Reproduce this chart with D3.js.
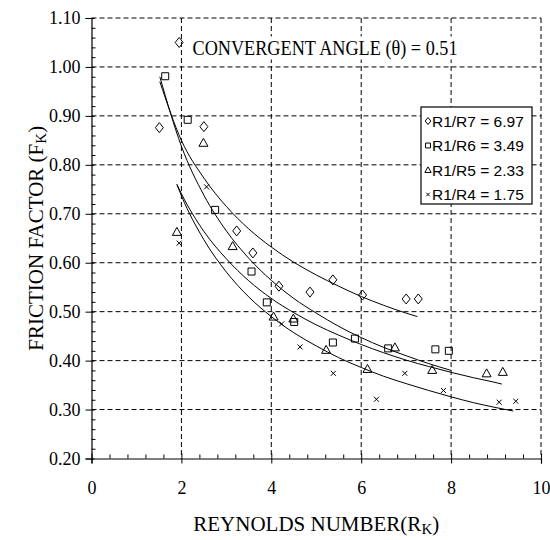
<!DOCTYPE html>
<meta charset="utf-8">
<title>Friction factor</title>
<script src="https://d3js.org/d3.v7.min.js"></script>
<style>
  body { margin: 0; background: #fff; }
  svg { display: block; }
</style>
<body>
<div id="my_dataviz"></div>
<script>

// axis ticks
var xTicks = [0, 2, 4, 6, 8, 10];
var yTicks = [0.20, 0.30, 0.40, 0.50, 0.60, 0.70, 0.80, 0.90, 1.00, 1.10];

// legend labels
var seriesNames = ["R1/R7 = 6.97", "R1/R6 = 3.49", "R1/R5 = 2.33", "R1/R4 = 1.75"];
var seriesSymbols = ["diamond", "square", "triangle", "cross"];

// measured points (Reynolds number, friction factor)
var r7X = [1.51, 1.95, 2.50, 3.23, 3.59, 4.17, 4.86, 5.37, 6.03, 7.00, 7.27];
var r7Y = [0.876, 1.05, 0.878, 0.665, 0.620, 0.552, 0.540, 0.565, 0.534, 0.526, 0.526];

var r6X = [1.64, 2.14, 2.75, 3.56, 3.90, 4.51, 5.37, 5.86, 6.60, 7.65, 7.95];
var r6Y = [0.981, 0.892, 0.708, 0.582, 0.519, 0.479, 0.437, 0.445, 0.425, 0.423, 0.420];

var r5X = [1.90, 2.49, 3.14, 4.05, 4.49, 5.22, 6.14, 6.75, 7.58, 8.79, 9.15];
var r5Y = [0.663, 0.845, 0.634, 0.490, 0.486, 0.422, 0.383, 0.427, 0.381, 0.374, 0.377];

var r4X = [1.95, 2.56, 4.23, 4.64, 5.38, 6.34, 6.97, 7.83, 9.07, 9.44];
var r4Y = [0.640, 0.755, 0.475, 0.428, 0.374, 0.321, 0.374, 0.339, 0.315, 0.317];

// trend curves
var fit7X = [1.52, 2, 2.5, 3, 3.5, 4, 4.5, 5, 5.5, 6, 6.5, 7, 7.25];
var fit7Y = [0.97, 0.85, 0.773, 0.715, 0.669, 0.632, 0.601, 0.575, 0.552, 0.531, 0.513, 0.497, 0.490];

var fit6X = [1.52, 2, 2.5, 3, 3.5, 4, 4.5, 5, 5.5, 6, 6.5, 7, 7.5, 8];
var fit6Y = [0.98, 0.838, 0.738, 0.665, 0.609, 0.564, 0.527, 0.497, 0.470, 0.447, 0.427, 0.410, 0.394, 0.380];

var fit5X = [1.9, 2, 2.5, 3, 3.5, 4, 4.5, 5, 5.5, 6, 6.5, 7, 7.5, 8, 8.5, 9, 9.13];
var fit5Y = [0.76, 0.741, 0.664, 0.608, 0.563, 0.527, 0.498, 0.473, 0.452, 0.433, 0.416, 0.401, 0.388, 0.376, 0.365, 0.355, 0.352];

var fit4X = [1.9, 2, 2.5, 3, 3.5, 4, 4.5, 5, 5.5, 6, 6.5, 7, 7.5, 8, 8.5, 9, 9.38];
var fit4Y = [0.76, 0.737, 0.647, 0.581, 0.530, 0.490, 0.457, 0.430, 0.406, 0.386, 0.368, 0.353, 0.339, 0.326, 0.314, 0.304, 0.297];

// set the dimensions and margins of the graph
var margin = {top: 18, right: 9, bottom: 81.5, left: 91.5},
    width = 550 - margin.left - margin.right,
    height = 540 - margin.top - margin.bottom;

var svg = d3.select("#my_dataviz")
  .append("svg")
    .attr("width", 550)
    .attr("height", 540)
  .append("g")
    .attr("transform", "translate(" + margin.left + "," + margin.top + ")");

var x = d3.scaleLinear().domain([0, 10]).range([0, width]);
var y = d3.scaleLinear().domain([0.2, 1.1]).range([height, 0]);

var serif = "'Liberation Serif', 'Times New Roman', serif";
var sans = "'Liberation Sans', Arial, sans-serif";

// dashed grid (top and right edges are grid lines too)
svg.append("g")
  .selectAll("line")
  .data(xTicks.slice(1))
  .enter().append("line")
    .attr("x1", function(d) { return x(d); })
    .attr("x2", function(d) { return x(d); })
    .attr("y1", 0)
    .attr("y2", height)
    .attr("stroke", "#000")
    .attr("stroke-dasharray", "5,3");

svg.append("g")
  .selectAll("line")
  .data(yTicks.slice(1))
  .enter().append("line")
    .attr("x1", 0)
    .attr("x2", width)
    .attr("y1", function(d) { return y(d); })
    .attr("y2", function(d) { return y(d); })
    .attr("stroke", "#000")
    .attr("stroke-dasharray", "5,3");

// minor tick values
var xMinor = d3.range(0, 50).map(function(i) { return i * 0.4; }).filter(function(v) { return v < 10 && Math.abs(v / 2 - Math.round(v / 2)) > 1e-6; });
var yMinor = d3.range(10, 56).map(function(i) { return i * 0.02; }).filter(function(v) { return Math.abs(v * 10 - Math.round(v * 10)) > 1e-6; });

// Y axis
var yAxis = svg.append("g")
  .call(d3.axisLeft(y).tickValues(yTicks).tickFormat(d3.format(".2f")).tickSize(6).tickPadding(5));
svg.append("g")
  .call(d3.axisRight(y).tickValues(yTicks).tickSize(3).tickFormat(""))
  .select(".domain").remove();
svg.append("g")
  .call(d3.axisRight(y).tickValues(yMinor).tickSize(4).tickFormat(""))
  .select(".domain").remove();

// X axis
var xAxis = svg.append("g")
  .attr("transform", "translate(0," + height + ")")
  .call(d3.axisBottom(x).tickValues(xTicks).tickFormat(d3.format("d")).tickSize(5).tickPadding(18));
svg.append("g")
  .attr("transform", "translate(0," + height + ")")
  .call(d3.axisTop(x).tickValues(xTicks).tickSize(5).tickFormat(""))
  .select(".domain").remove();
svg.append("g")
  .attr("transform", "translate(0," + height + ")")
  .call(d3.axisTop(x).tickValues(xMinor).tickSize(4).tickFormat(""))
  .select(".domain").remove();

svg.selectAll(".domain").attr("stroke", "#000").attr("stroke-width", 1.2);
svg.selectAll(".tick line").attr("stroke", "#000");
[xAxis, yAxis].forEach(function(a) {
  a.selectAll("text")
    .attr("font-family", serif)
    .attr("font-size", "18px")
    .attr("fill", "#000");
});

// trend curves
var line = d3.line()
  .x(function(d) { return x(d[0]); })
  .y(function(d) { return y(d[1]); })
  .curve(d3.curveMonotoneX);

[[fit7X, fit7Y], [fit6X, fit6Y], [fit5X, fit5Y], [fit4X, fit4Y]].forEach(function(f) {
  svg.append("path")
    .datum(d3.zip(f[0], f[1]))
    .attr("d", line)
    .attr("fill", "none")
    .attr("stroke", "#000")
    .attr("stroke-width", 1);
});

// marker shapes
function symbolPath(kind, s) {
  if (kind == "diamond") return "M0," + (-5 * s) + "L" + (4 * s) + ",0L0," + (5 * s) + "L" + (-4 * s) + ",0Z";
  if (kind == "square") return "M" + (-3.5 * s) + "," + (-3.5 * s) + "h" + (7 * s) + "v" + (7 * s) + "h" + (-7 * s) + "Z";
  if (kind == "triangle") return "M0," + (-4.5 * s) + "L" + (4.5 * s) + "," + (3.5 * s) + "L" + (-4.5 * s) + "," + (3.5 * s) + "Z";
  return "M" + (-2.5 * s) + "," + (-2.5 * s) + "L" + (2.5 * s) + "," + (2.5 * s) + "M" + (2.5 * s) + "," + (-2.5 * s) + "L" + (-2.5 * s) + "," + (2.5 * s);
}

// Show the points
[[r7X, r7Y], [r6X, r6Y], [r5X, r5Y], [r4X, r4Y]].forEach(function(s, i) {
  svg.append("g")
    .selectAll("path")
    .data(d3.zip(s[0], s[1]))
    .enter().append("path")
      .attr("transform", function(d) { return "translate(" + x(d[0]) + "," + y(d[1]) + ")"; })
      .attr("d", symbolPath(seriesSymbols[i], 1))
      .attr("fill", "none")
      .attr("stroke", "#000")
      .attr("stroke-width", 1);
});

// annotation with white background
var note = svg.append("g");
var noteText = note.append("text")
  .attr("x", 101)
  .attr("y", 36.5)
  .attr("font-family", serif)
  .attr("font-size", "20px")
  .attr("textLength", 265)
  .attr("lengthAdjust", "spacingAndGlyphs")
  .text("CONVERGENT ANGLE (\u03b8) = 0.51");
var nb = noteText.node().getBBox();
note.insert("rect", "text")
  .attr("x", nb.x - 2)
  .attr("y", nb.y)
  .attr("width", nb.width + 4)
  .attr("height", nb.height)
  .attr("fill", "#fff");

// legend box
var legend = svg.append("g").attr("transform", "translate(" + (421 - margin.left) + "," + (107 - margin.top) + ")");
legend.append("rect")
  .attr("width", 111)
  .attr("height", 97)
  .attr("fill", "#fff")
  .attr("stroke", "#000")
  .attr("stroke-width", 1.2);
var rows = legend.selectAll("g.row")
  .data(seriesNames)
  .enter().append("g")
    .attr("class", "row")
    .attr("transform", function(d, i) { return "translate(0," + (14 + i * 24.5) + ")"; });
rows.append("path")
  .attr("transform", "translate(7,0)")
  .attr("d", function(d, i) { return symbolPath(seriesSymbols[i], 0.7); })
  .attr("fill", "none")
  .attr("stroke", "#000");
rows.append("text")
  .attr("x", 11)
  .attr("y", 5.5)
  .attr("font-family", sans)
  .attr("font-size", "15.5px")
  .text(function(d) { return d; });

// axis titles
var xTitle = svg.append("text")
  .attr("x", width / 2)
  .attr("y", 513)
  .attr("text-anchor", "middle")
  .attr("font-family", serif)
  .attr("font-size", "21px");
xTitle.append("tspan").text("REYNOLDS NUMBER(R");
xTitle.append("tspan").attr("font-size", "15px").attr("dy", 3).text("K");
xTitle.append("tspan").attr("dy", -3).text(")");

var yTitle = svg.append("text")
  .attr("transform", "translate(-49," + (height / 2) + ") rotate(-90)")
  .attr("text-anchor", "middle")
  .attr("font-family", serif)
  .attr("font-size", "21px");
yTitle.append("tspan").text("FRICTION FACTOR (F");
yTitle.append("tspan").attr("font-size", "15px").attr("dy", 3).text("K");
yTitle.append("tspan").attr("dy", -3).text(")");

</script>
</body>
